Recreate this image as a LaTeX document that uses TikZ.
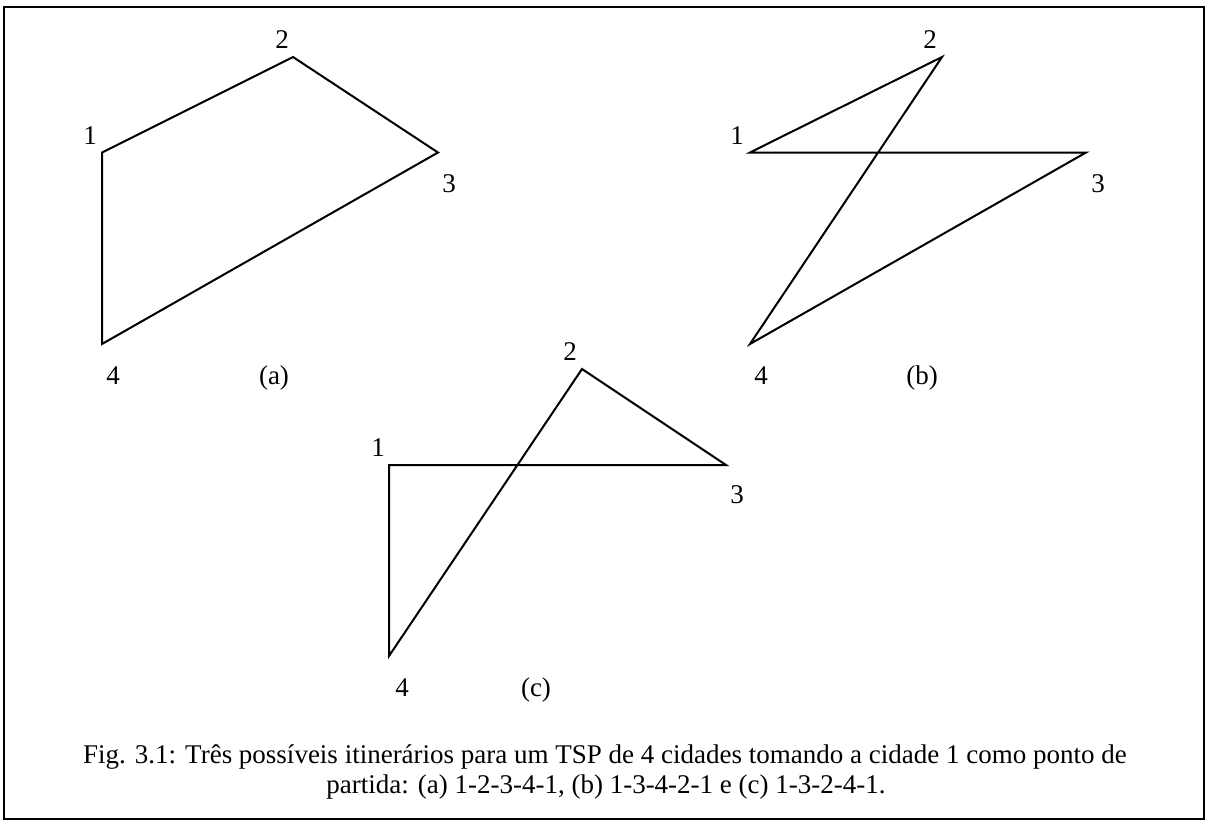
\documentclass[tikz,border=0pt]{standalone}
\usepackage{fontspec}
\setmainfont{Liberation Serif}
\usetikzlibrary{positioning}

\begin{document}
\begin{tikzpicture}[x=0.5pt, y=-0.5pt,
    rotulo/.style={anchor=base, inner sep=0pt, font=\fontsize{13.5}{15}\selectfont},
    rota/.style={line width=1pt, line join=miter}]
    \useasboundingbox (0,0) rectangle (1207,821);
    \draw[line width=1pt] (4,7) rectangle (1204,819);

    % (a) 1-2-3-4-1
    \coordinate (a1) at (102,152.5);
    \coordinate (a2) at (293,57);
    \coordinate (a3) at (438,152.5);
    \coordinate (a4) at (102,344);
    \node[rotulo] (la1) at (90,144) {1};
    \node[rotulo] (la2) at (282,48) {2};
    \node[rotulo] (la3) at (449,192) {3};
    \node[rotulo] (la4) at (113,384) {4};
    \node[rotulo] (ta) at (274,384) {(a)};
    \draw[rota] (a1) -- (a2) -- (a3) -- (a4) -- cycle;

    % (b) 1-3-4-2-1
    \coordinate (b1) at (750,152.5);
    \coordinate (b2) at (942,57);
    \coordinate (b3) at (1086,152.5);
    \coordinate (b4) at (750,344);
    \node[rotulo] (lb1) at (737,144) {1};
    \node[rotulo] (lb2) at (930,48) {2};
    \node[rotulo] (lb3) at (1098,192) {3};
    \node[rotulo] (lb4) at (761,384) {4};
    \node[rotulo] (tb) at (922,384) {(b)};
    \draw[rota] (b1) -- (b3) -- (b4) -- (b2) -- cycle;

    % (c) 1-3-2-4-1
    \coordinate (c1) at (389,465);
    \coordinate (c2) at (582,369);
    \coordinate (c3) at (726,465);
    \coordinate (c4) at (389,656);
    \node[rotulo] (lc1) at (378,456) {1};
    \node[rotulo] (lc2) at (570,360) {2};
    \node[rotulo] (lc3) at (737,503) {3};
    \node[rotulo] (lc4) at (402,696) {4};
    \node[rotulo] (tc) at (536,696) {(c)};
    \draw[rota] (c1) -- (c3) -- (c2) -- (c4) -- cycle;

    % legenda
    \node[rotulo] (leg1) at (605,763) {Fig. 3.1: Três possíveis itinerários para um TSP de 4 cidades tomando a cidade 1 como ponto de};
    \node[rotulo] (leg2) at (606,793) {partida: (a) 1-2-3-4-1, (b) 1-3-4-2-1 e (c) 1-3-2-4-1.};
\end{tikzpicture}
\end{document}
